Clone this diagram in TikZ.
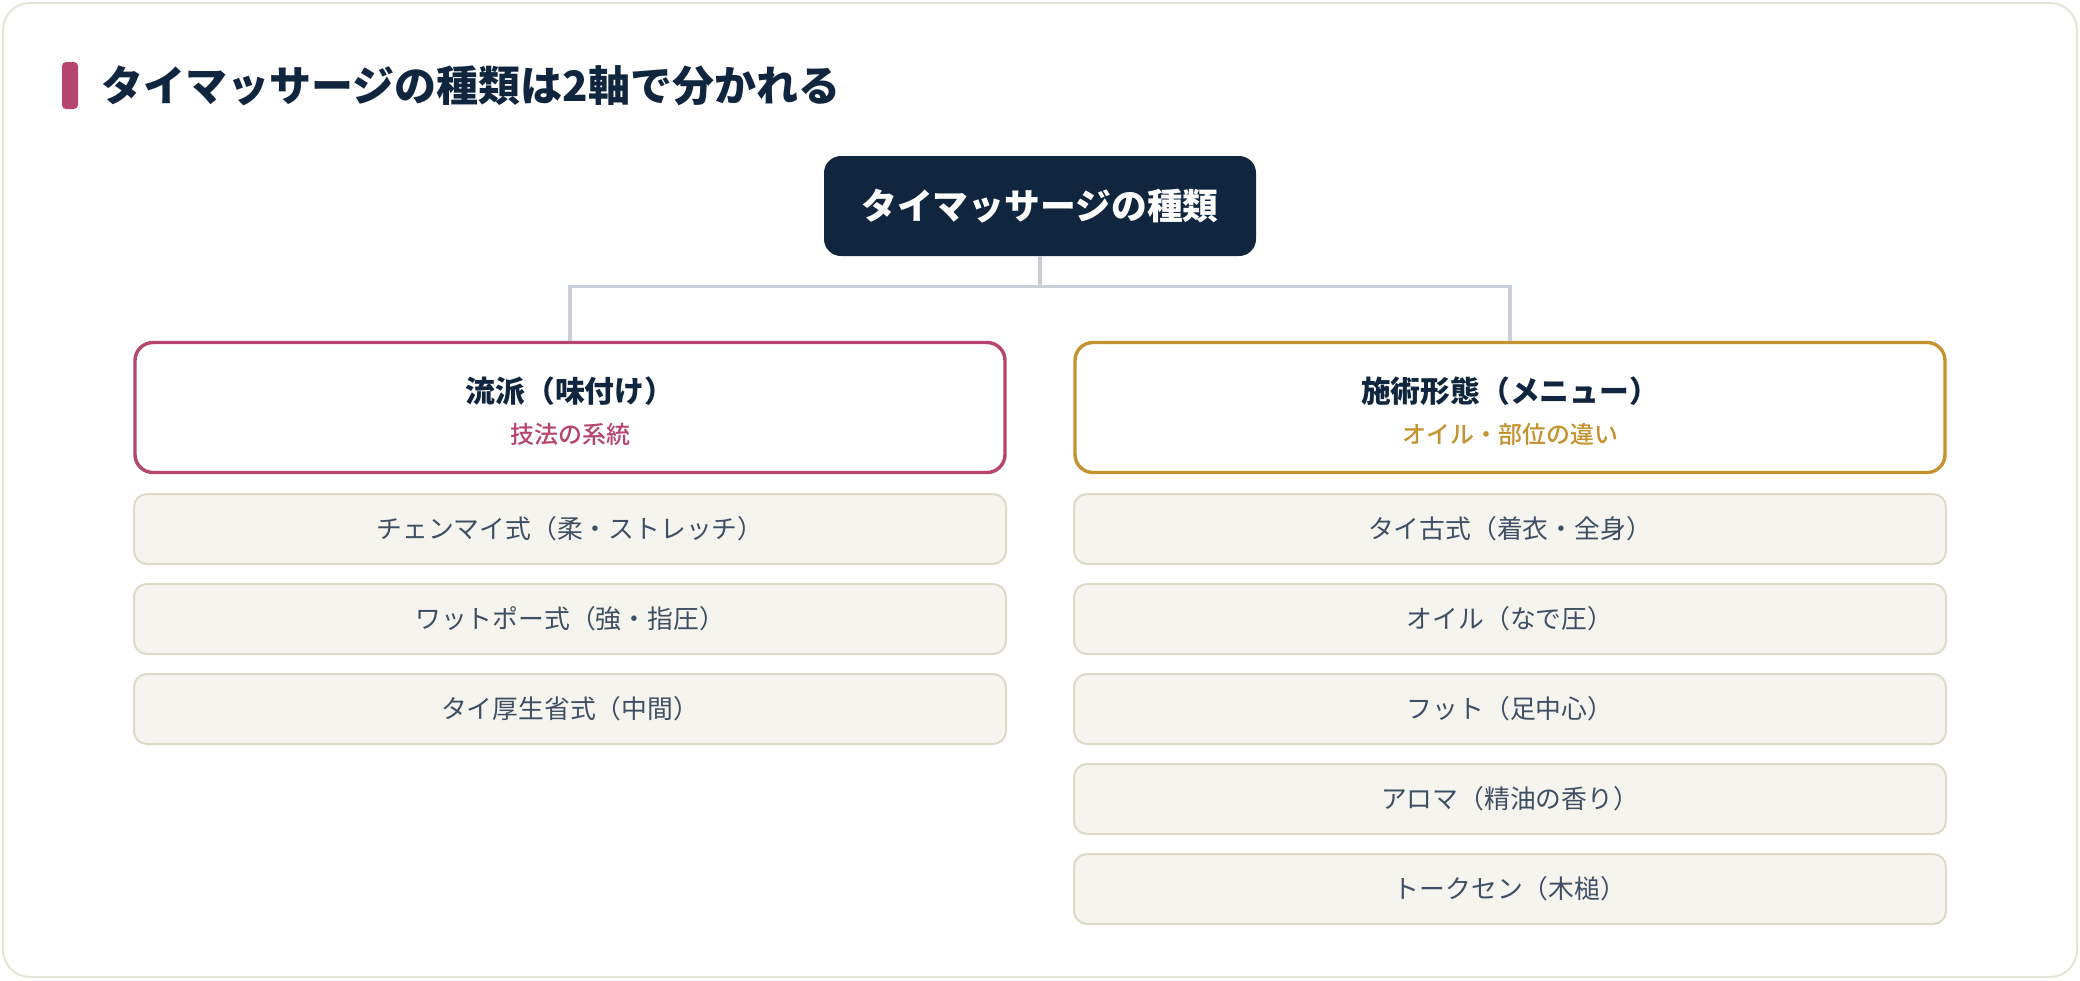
\documentclass[tikz,border=0pt]{standalone}
\usepackage{fontspec}
\setmainfont{Noto Sans CJK JP}
\newfontfamily\mediumfont{Noto Sans CJK JP Medium}
\definecolor{navy}{HTML}{10263F}
\definecolor{rose}{HTML}{B5446E}
\definecolor{gold}{HTML}{C4922F}
\definecolor{itemfill}{HTML}{F5F4EF}
\definecolor{itemline}{HTML}{DDD9C7}
\definecolor{itemtext}{HTML}{3F4F63}
\definecolor{linkgray}{HTML}{C9CFD8}
\definecolor{framegray}{HTML}{E6E4D9}

\begin{document}
\begin{tikzpicture}[x=0.5pt, y=-0.5pt,
  item/.style={rectangle, rounded corners=6.5pt, minimum width=436pt, minimum height=35pt,
    draw=itemline, line width=1pt, fill=itemfill, text=itemtext,
    font=\fontsize{12.9pt}{15pt}\selectfont},
  cat/.style={rectangle, rounded corners=9pt, minimum width=435pt, minimum height=65pt,
    line width=1.7pt, fill=white},
  cattitle/.style={text=navy, font=\bfseries\fontsize{14.9pt}{18pt}\selectfont},
  catsub/.style={font=\mediumfont\fontsize{12pt}{14pt}\selectfont},
  link/.style={draw=linkgray, line width=1.6pt}]
  \useasboundingbox (0,0) rectangle (2080,980);
  \draw[framegray, line width=1pt, rounded corners=13.5pt] (3,3) rectangle (2077,977);

  % heading
  \node[fill=rose, rounded corners=2pt, minimum width=8pt, minimum height=23.5pt, inner sep=0pt] (bar) at (70,85.5) {};
  \node[anchor=west, inner sep=0pt, text=navy, font=\bfseries\fontsize{21pt}{25pt}\selectfont] (heading) at (101,86) {タイマッサージの種類は2軸で分かれる};

  % root
  \node[fill=navy, rounded corners=8.5pt, minimum width=216pt, minimum height=50pt, text=white,
    font=\bfseries\fontsize{17.9pt}{21pt}\selectfont] (root) at (1040,206) {タイマッサージの種類};

  % axes
  \node[cat, draw=rose] (school) at (570,407.5) {};
  \node[cattitle] (schoolt) at (570,391) {流派（味付け）};
  \node[catsub, text=rose] (schools) at (570,434) {技法の系統};

  \node[cat, draw=gold] (menu) at (1510,407.5) {};
  \node[cattitle] (menut) at (1510,391) {施術形態（メニュー）};
  \node[catsub, text=gold] (menus) at (1510,434) {オイル・部位の違い};

  \draw[link] (root.south) -- ++(0,30) -| (school.north);
  \draw[link] (root.south) -- ++(0,30) -| (menu.north);

  % left list
  \node[item] (l1) at (570,529) {チェンマイ式（柔・ストレッチ）};
  \node[item] (l2) at (570,619) {ワットポー式（強・指圧）};
  \node[item] (l3) at (570,709) {タイ厚生省式（中間）};

  % right list
  \node[item] (r1) at (1510,529) {タイ古式（着衣・全身）};
  \node[item] (r2) at (1510,619) {オイル（なで圧）};
  \node[item] (r3) at (1510,709) {フット（足中心）};
  \node[item] (r4) at (1510,799) {アロマ（精油の香り）};
  \node[item] (r5) at (1510,889) {トークセン（木槌）};
\end{tikzpicture}
\end{document}
